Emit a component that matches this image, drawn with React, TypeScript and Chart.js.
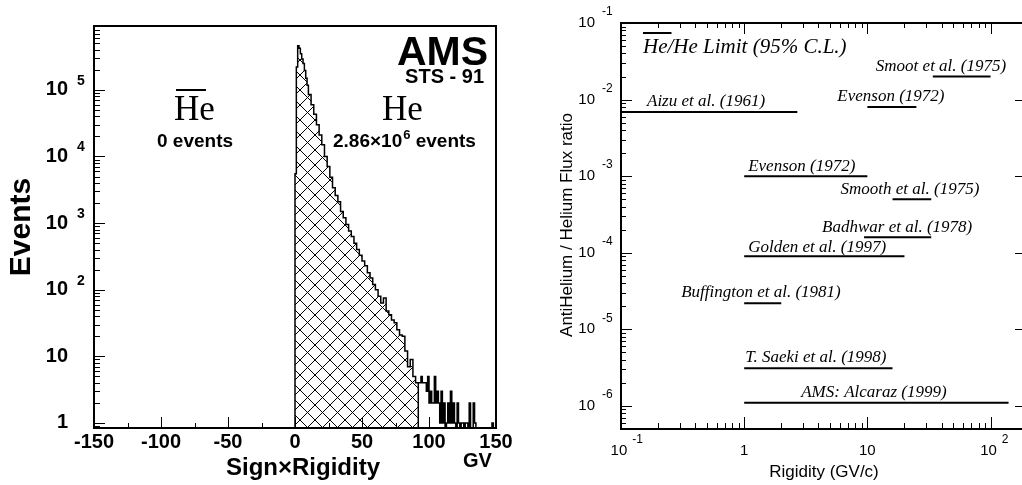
import { useEffect, useRef } from "react";
import { Chart, registerables } from "chart.js";

Chart.register(...registerables);

const SANS = "'Liberation Sans', Arial, Helvetica, sans-serif";
const SERIF = "'Liberation Serif', 'Times New Roman', Times, serif";

// ---------------- Left panel: AMS STS-91 Sign x Rigidity histogram ----------------
const HE_BIN_EDGES = [0, 1, 2, 3, 4, 5, 6, 7, 8, 9, 10, 12, 14, 16, 18, 20, 22, 24, 26, 28, 30, 32, 34, 36, 38, 40, 42, 44, 46, 48, 50, 52, 54, 56, 58, 60, 62, 64, 66, 68, 70, 72, 74, 76, 78, 80, 82, 84, 86, 88, 90, 92];
const HE_COUNTS = [5500, 220000, 460000, 420000, 350000, 290000, 250000, 195000, 150000, 117000, 85000, 60000, 43000, 30000, 21000, 15000, 10000, 7100, 4900, 3400, 2600, 2100, 1500, 1200, 950, 760, 630, 500, 400, 330, 270, 230, 180, 150, 120, 100, 80, 63, 75, 48, 42, 35, 32, 25, 21, 20, 12, 7, 9, 5, 4];
const TAIL_BIN_EDGES = [92, 93, 94, 95, 96, 97, 98, 99, 100, 101, 102, 103, 104, 105, 106, 107, 108, 109, 110, 111, 112, 113, 114, 115, 116, 117, 118, 119, 120, 121, 122, 123, 124, 125, 126, 127, 128, 129, 130, 131, 132, 133, 134, 135, 136, 137, 138, 139, 140, 141, 142, 143, 144, 145, 146, 147, 148, 149, 150];
const TAIL_COUNTS = [4, 4, 5, 4, 4, 4, 3, 5, 2, 3, 2, 2, 5, 2, 3, 2, 1, 3, 1, 2, 0, 1, 2, 1, 3, 1, 2, 1, 0, 2, 1, 0, 1, 1, 0, 1, 1, 0, 2, 0, 0, 2, 1, 0, 0, 0, 0, 0, 0, 0, 0, 0, 0, 0, 0, 1, 0, 0];
const LEFT_X_TICKS = [-150, -100, -50, 0, 50, 100, 150];
const LEFT_X_TICK_LABELS = ["-150", "-100", "-50", "0", "50", "100", "150"];
const LEFT_Y_TICKS = [1, 10, 100, 1000, 10000, 100000];
const LEFT_Y_MIN = 0.84;
const LEFT_Y_MAX = 9.1e5;

// ---------------- Right panel: anti-He / He flux ratio limits ----------------
const EXPERIMENTS = [
  "Aizu et al. (1961)",
  "Smoot et al. (1975)",
  "Evenson (1972)",
  "Evenson (1972)",
  "Smooth et al. (1975)",
  "Badhwar et al. (1978)",
  "Golden et al. (1997)",
  "Buffington et al. (1981)",
  "T. Saeki et al. (1998)",
  "AMS: Alcaraz (1999)",
];
const LIMIT_RATIO = [6.9e-3, 2.0e-2, 8.0e-3, 1.0e-3, 5.0e-4, 1.6e-4, 9.0e-5, 2.2e-5, 3.1e-6, 1.1e-6];
const RIGIDITY_MIN = [0.1, 34, 10, 1, 16, 9.4, 1, 1, 1, 1];
const RIGIDITY_MAX = [2.7, 100, 25, 10, 33, 33, 20, 2, 16, 140];
const RIGHT_X_TICKS = [0.1, 1, 10, 100];
const RIGHT_Y_TICKS = [1e-6, 1e-5, 1e-4, 1e-3, 1e-2, 1e-1];
// label placement (pixels, relative to the start of each limit line)
const LABEL_DX = [26, -57, -30, 4, -52, -42, 4, -63, 1, 57];
const LABEL_DY = [-6, -6, -6, -5, -5, -5, -4, -6, -6, -6];

function floorY(v: number) {
  return v > 0 ? v : LEFT_Y_MIN;
}

function makeHatch(target: HTMLCanvasElement): CanvasPattern | string {
  const tile = document.createElement("canvas");
  tile.width = 15;
  tile.height = 15;
  const g = tile.getContext("2d");
  const tctx = target.getContext("2d");
  if (!g || !tctx) return "rgba(0,0,0,0)";
  g.strokeStyle = "#000";
  g.lineWidth = 1;
  g.beginPath();
  g.moveTo(-2, -2);
  g.lineTo(17, 17);
  g.moveTo(17, -2);
  g.lineTo(-2, 17);
  g.stroke();
  return tctx.createPattern(tile, "repeat") ?? "rgba(0,0,0,0)";
}

function zeroPad(s: any) {
  s.paddingTop = 0;
  s.paddingBottom = 0;
  s.paddingLeft = 0;
  s.paddingRight = 0;
}

const leftDecor = {
  id: "leftDecor",
  afterDraw(chart: any) {
    const { ctx, chartArea: a, scales } = chart;
    const xs = scales.x;
    const ys = scales.y;
    ctx.save();
    ctx.strokeStyle = "#000";
    ctx.lineWidth = 1;
    ctx.beginPath();
    for (let d = -1; d <= 6; d++) {
      for (let m = 1; m <= 9; m++) {
        const v = m * Math.pow(10, d);
        if (v < ys.min || v > ys.max) continue;
        const y = Math.round(ys.getPixelForValue(v)) + 0.5;
        const len = m === 1 ? 11 : 6;
        ctx.moveTo(a.left, y);
        ctx.lineTo(a.left + len, y);
      }
    }
    for (let v = -150; v <= 150; v += 25) {
      const x = Math.round(xs.getPixelForValue(v)) + 0.5;
      const len = v % 50 === 0 ? 11 : 5;
      ctx.moveTo(x, a.bottom);
      ctx.lineTo(x, a.bottom - len);
    }
    ctx.stroke();
    ctx.lineWidth = 2;
    ctx.strokeRect(a.left, a.top, a.right - a.left, a.bottom - a.top);

    ctx.fillStyle = "#000";
    // exponents of y tick labels
    ctx.font = `bold 14px ${SANS}`;
    ctx.textAlign = "left";
    ctx.textBaseline = "middle";
    for (const t of ys.ticks) {
      const e = Math.round(Math.log10(t.value));
      if (e >= 2) ctx.fillText(String(e), a.left - 17, ys.getPixelForValue(t.value) - 9);
    }

    ctx.textBaseline = "alphabetic";
    ctx.textAlign = "right";
    ctx.font = `bold 41px ${SANS}`;
    ctx.fillText("AMS", 488, 65);
    ctx.font = `bold 20px ${SANS}`;
    ctx.fillText("STS - 91", 484, 83);

    ctx.textAlign = "left";
    ctx.font = `35px ${SERIF}`;
    ctx.fillText("He", 174, 120);
    ctx.fillText("He", 382, 120);
    ctx.lineWidth = 2;
    ctx.beginPath();
    ctx.moveTo(176, 90);
    ctx.lineTo(206, 90);
    ctx.stroke();

    ctx.font = `bold 19px ${SANS}`;
    ctx.fillText("0 events", 157, 147);
    const base = "2.86\u00d710";
    ctx.fillText(base, 333, 147);
    let x = 333 + ctx.measureText(base).width + 1;
    ctx.font = `bold 13px ${SANS}`;
    ctx.fillText("6", x, 139);
    x += ctx.measureText("6").width;
    ctx.font = `bold 19px ${SANS}`;
    ctx.fillText(" events", x, 147);

    ctx.font = `bold 24px ${SANS}`;
    ctx.textAlign = "center";
    ctx.fillText("Sign\u00d7Rigidity", 303, 475);
    ctx.font = `bold 20px ${SANS}`;
    ctx.textAlign = "left";
    ctx.fillText("GV", 463, 467);

    ctx.translate(22, 227);
    ctx.rotate(-Math.PI / 2);
    ctx.textAlign = "center";
    ctx.textBaseline = "middle";
    ctx.font = `bold 30px ${SANS}`;
    ctx.fillText("Events", 0, 0);
    ctx.restore();
  },
};

const rightDecor = {
  id: "rightDecor",
  afterDraw(chart: any) {
    const { ctx, chartArea: a, scales } = chart;
    const xs = scales.x;
    const ys = scales.y;
    ctx.save();
    ctx.strokeStyle = "#000";
    ctx.lineWidth = 1;
    ctx.beginPath();
    for (let d = -7; d <= -1; d++) {
      for (let m = 1; m <= 9; m++) {
        const v = m * Math.pow(10, d);
        if (v < ys.min || v > ys.max * 1.0001) continue;
        const y = Math.round(ys.getPixelForValue(v)) + 0.5;
        const len = m === 1 ? 11 : 5;
        ctx.moveTo(a.left, y);
        ctx.lineTo(a.left + len, y);
        if (m === 1) {
          ctx.moveTo(a.right - 7, y);
          ctx.lineTo(a.right, y);
        }
      }
    }
    for (let d = -1; d <= 2; d++) {
      for (let m = 1; m <= 9; m++) {
        const v = m * Math.pow(10, d);
        if (v < xs.min * 0.9999 || v > xs.max) continue;
        const x = Math.round(xs.getPixelForValue(v)) + 0.5;
        const major = m === 1;
        ctx.moveTo(x, a.bottom);
        ctx.lineTo(x, a.bottom - (major ? 12 : 6));
        ctx.moveTo(x, a.top);
        ctx.lineTo(x, a.top + (major ? 11 : 5));
      }
    }
    ctx.stroke();
    ctx.lineWidth = 2;
    ctx.beginPath();
    ctx.moveTo(a.right, a.top);
    ctx.lineTo(a.left, a.top);
    ctx.lineTo(a.left, a.bottom);
    ctx.lineTo(a.right, a.bottom);
    ctx.stroke();

    ctx.fillStyle = "#000";
    // exponents
    ctx.font = `12px ${SANS}`;
    ctx.textAlign = "left";
    ctx.textBaseline = "middle";
    for (const t of ys.ticks) {
      const e = Math.round(Math.log10(t.value));
      ctx.fillText(String(e), a.left - 19, ys.getPixelForValue(t.value) - 11);
    }
    ctx.font = `15px ${SANS}`;
    const wFull = ctx.measureText("10 ").width;
    const w10 = ctx.measureText("10").width;
    ctx.font = `12px ${SANS}`;
    for (const t of xs.ticks) {
      const e = Math.round(Math.log10(t.value));
      if (e === 0 || e === 1) continue;
      const px = xs.getPixelForValue(t.value);
      ctx.fillText(String(e), px - wFull / 2 + w10 + 5, a.bottom + 11);
    }

    // experiment labels
    ctx.textBaseline = "alphabetic";
    ctx.font = `italic 17px ${SERIF}`;
    EXPERIMENTS.forEach((name, i) => {
      const x0 = xs.getPixelForValue(RIGIDITY_MIN[i]);
      const y0 = ys.getPixelForValue(LIMIT_RATIO[i]);
      ctx.fillText(name, x0 + LABEL_DX[i], y0 + LABEL_DY[i]);
    });

    // title
    ctx.font = `italic 21px ${SERIF}`;
    const tx = 103;
    ctx.fillText("He/He Limit (95% C.L.)", tx, 53);
    const hw = ctx.measureText("He").width;
    ctx.beginPath();
    ctx.moveTo(tx, 33);
    ctx.lineTo(tx + hw + 4, 33);
    ctx.stroke();

    ctx.font = `17px ${SANS}`;
    ctx.textAlign = "center";
    ctx.fillText("Rigidity (GV/c)", 284, 477);
    ctx.translate(27, 225);
    ctx.rotate(-Math.PI / 2);
    ctx.textBaseline = "middle";
    ctx.fillText("AntiHelium / Helium Flux ratio", 0, 0);
    ctx.restore();
  },
};

export default function App() {
  const leftRef = useRef<HTMLCanvasElement>(null);
  const rightRef = useRef<HTMLCanvasElement>(null);

  useEffect(() => {
    const lc = leftRef.current;
    const rc = rightRef.current;
    if (!lc || !rc) return;
    const hatch = makeHatch(lc);

    const hatchPts: { x: number; y: number }[] = [{ x: HE_BIN_EDGES[0], y: LEFT_Y_MIN }];
    HE_COUNTS.forEach((c, i) => hatchPts.push({ x: HE_BIN_EDGES[i], y: floorY(c) }));
    hatchPts.push({ x: HE_BIN_EDGES[HE_BIN_EDGES.length - 1], y: floorY(HE_COUNTS[HE_COUNTS.length - 1]) });
    hatchPts.push({ x: HE_BIN_EDGES[HE_BIN_EDGES.length - 1], y: LEFT_Y_MIN });

    const tailPts: { x: number; y: number }[] = [];
    TAIL_COUNTS.forEach((c, i) => tailPts.push({ x: TAIL_BIN_EDGES[i], y: floorY(c) }));
    tailPts.push({ x: TAIL_BIN_EDGES[TAIL_BIN_EDGES.length - 1], y: floorY(TAIL_COUNTS[TAIL_COUNTS.length - 1]) });

    const left = new Chart(lc, {
      type: "line",
      data: {
        datasets: [
          {
            data: hatchPts,
            stepped: true,
            fill: "start",
            backgroundColor: hatch as any,
            borderColor: "#000",
            borderWidth: 1.5,
            pointRadius: 0,
          },
          {
            data: tailPts,
            stepped: true,
            fill: false,
            borderColor: "#000",
            borderWidth: 1.5,
            pointRadius: 0,
          },
        ],
      },
      options: {
        responsive: false,
        animation: false,
        devicePixelRatio: 1,
        layout: { padding: { left: 0, top: 26, right: 24, bottom: 0 }, autoPadding: false },
        plugins: { legend: { display: false }, tooltip: { enabled: false } },
        scales: {
          x: {
            type: "linear",
            min: -150,
            max: 150,
            afterBuildTicks: (s: any) => {
              s.ticks = LEFT_X_TICKS.map((v) => ({ value: v }));
            },
            afterFit: (s: any) => {
              s.height = 57;
              zeroPad(s);
            },
            ticks: {
              autoSkip: false,
              maxRotation: 0,
              padding: 2,
              color: "#000",
              font: { family: SANS, size: 20, weight: "bold" },
              callback: (v: any) => LEFT_X_TICK_LABELS[LEFT_X_TICKS.indexOf(Number(v))],
            },
            grid: { display: false, drawTicks: false },
            border: { display: false },
          },
          y: {
            type: "logarithmic",
            min: LEFT_Y_MIN,
            max: LEFT_Y_MAX,
            afterBuildTicks: (s: any) => {
              s.ticks = LEFT_Y_TICKS.map((v) => ({ value: v }));
            },
            afterFit: (s: any) => {
              s.width = 94;
              zeroPad(s);
            },
            ticks: {
              autoSkip: false,
              padding: 26,
              color: "#000",
              font: { family: SANS, size: 20, weight: "bold" },
              callback: (v: any) => (Number(v) === 1 ? "1" : "10"),
            },
            grid: { display: false, drawTicks: false },
            border: { display: false },
          },
        },
      },
      plugins: [leftDecor],
    } as any);

    const right = new Chart(rc, {
      type: "line",
      data: {
        datasets: EXPERIMENTS.map((name, i) => ({
          label: name,
          data: [
            { x: RIGIDITY_MIN[i], y: LIMIT_RATIO[i] },
            { x: RIGIDITY_MAX[i], y: LIMIT_RATIO[i] },
          ],
          borderColor: "#000",
          borderWidth: 2,
          pointRadius: 0,
          fill: false,
        })),
      },
      options: {
        responsive: false,
        animation: false,
        devicePixelRatio: 1,
        layout: { padding: { left: 0, top: 23, right: 0, bottom: 0 }, autoPadding: false },
        plugins: { legend: { display: false }, tooltip: { enabled: false } },
        scales: {
          x: {
            type: "logarithmic",
            min: 0.1,
            max: 180,
            afterBuildTicks: (s: any) => {
              s.ticks = RIGHT_X_TICKS.map((v) => ({ value: v }));
            },
            afterFit: (s: any) => {
              s.height = 56;
              zeroPad(s);
            },
            ticks: {
              autoSkip: false,
              maxRotation: 0,
              padding: 13,
              color: "#000",
              font: { family: SANS, size: 15 },
              callback: (v: any) => {
                const n = Number(v);
                if (n === 1) return "1";
                if (n === 10) return "10";
                return "10 ";
              },
            },
            grid: { display: false, drawTicks: false },
            border: { display: false },
          },
          y: {
            type: "logarithmic",
            min: 5e-7,
            max: 0.1,
            afterBuildTicks: (s: any) => {
              s.ticks = RIGHT_Y_TICKS.map((v) => ({ value: v }));
            },
            afterFit: (s: any) => {
              s.width = 81;
              zeroPad(s);
            },
            ticks: {
              autoSkip: false,
              padding: 26,
              color: "#000",
              font: { family: SANS, size: 15 },
              callback: () => "10",
            },
            grid: { display: false, drawTicks: false },
            border: { display: false },
          },
        },
      },
      plugins: [rightDecor],
    } as any);

    return () => {
      left.destroy();
      right.destroy();
    };
  }, []);

  return (
    <div
      style={{
        position: "fixed",
        left: 0,
        top: 0,
        width: 1022,
        height: 485,
        background: "#fff",
        overflow: "hidden",
      }}
    >
      <canvas
        ref={leftRef}
        width={520}
        height={485}
        style={{ position: "absolute", left: 0, top: 0, width: 520, height: 485 }}
      />
      <canvas
        ref={rightRef}
        width={482}
        height={485}
        style={{ position: "absolute", left: 540, top: 0, width: 482, height: 485 }}
      />
    </div>
  );
}
